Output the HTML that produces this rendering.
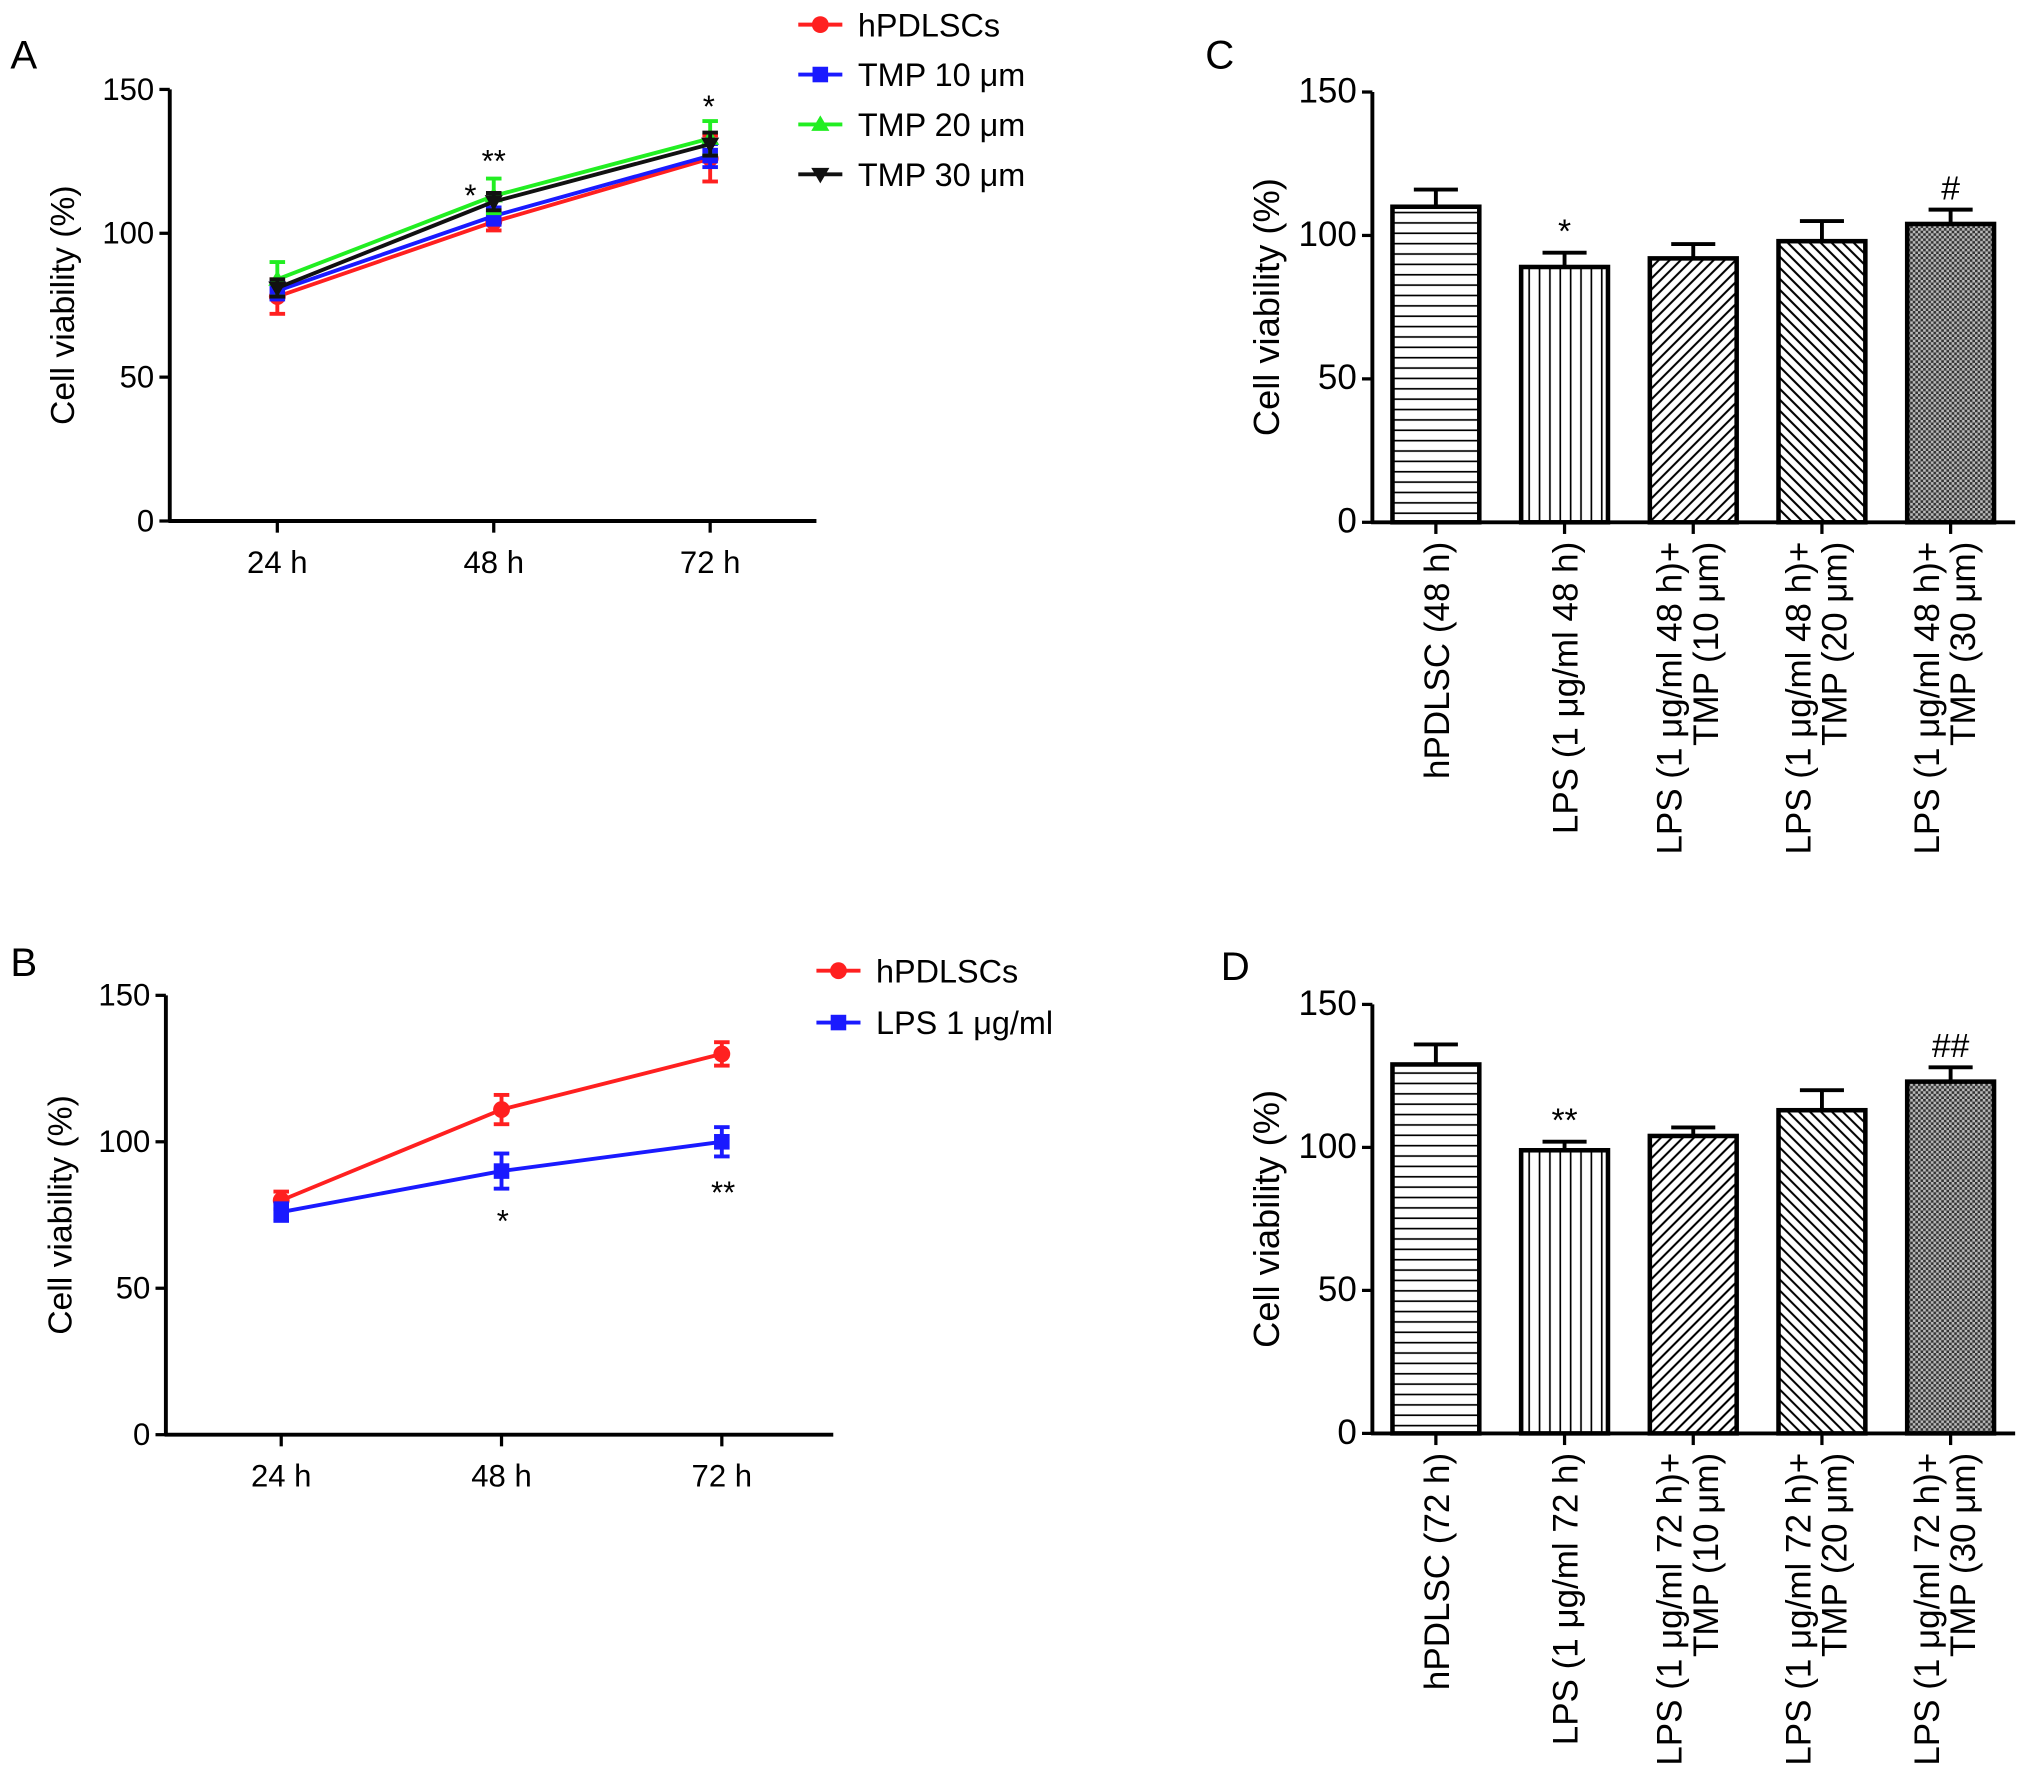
<!DOCTYPE html>
<html><head><meta charset="utf-8"><style>
html,body{margin:0;padding:0;background:#fff;}
svg{display:block;font-family:"Liberation Sans",Arial,sans-serif;}
</style></head><body>
<svg id="fig" width="2032" height="1771" viewBox="0 0 1568 1366.5" preserveAspectRatio="none" xmlns="http://www.w3.org/2000/svg">
<defs>
<pattern id="pH" patternUnits="userSpaceOnUse" width="8" height="8"><rect width="8" height="8" fill="#fff"/><line x1="0" y1="4" x2="8" y2="4" stroke="#000" stroke-width="1.3"/></pattern>
<pattern id="pV" patternUnits="userSpaceOnUse" width="8" height="8"><rect width="8" height="8" fill="#fff"/><line x1="4" y1="0" x2="4" y2="8" stroke="#000" stroke-width="1.3"/></pattern>
<pattern id="pD1" patternUnits="userSpaceOnUse" width="6" height="6" patternTransform="rotate(45)"><rect width="6" height="6" fill="#fff"/><line x1="3" y1="0" x2="3" y2="6" stroke="#000" stroke-width="1.6"/></pattern>
<pattern id="pD2" patternUnits="userSpaceOnUse" width="6" height="6" patternTransform="rotate(-45)"><rect width="6" height="6" fill="#fff"/><line x1="3" y1="0" x2="3" y2="6" stroke="#000" stroke-width="1.6"/></pattern>
<pattern id="pX" patternUnits="userSpaceOnUse" width="4" height="4"><rect width="4" height="4" fill="#bbb"/><rect width="2" height="2" fill="#333"/><rect x="2" y="2" width="2" height="2" fill="#333"/></pattern>
</defs>
</svg>
<script>
// Panel A data
const catsA = ["24 h","48 h","72 h"];
const namesA = ["hPDLSCs","TMP 10 μm","TMP 20 μm","TMP 30 μm"];
const valA_hp = [78,104,126];
const errA_hp = [6,3,8];
const valA_10 = [80,106,127];
const errA_10 = [3,3,4];
const valA_20 = [84,113,133];
const errA_20 = [6,6,6];
const valA_30 = [81,111,131];
const errA_30 = [3,3,4];
// Panel B data
const catsB = ["24 h","48 h","72 h"];
const namesB = ["hPDLSCs","LPS 1 μg/ml"];
const valB_hp = [80,111,130];
const errB_hp = [3,5,4];
const valB_lps = [76,90,100];
const errB_lps = [3,6,5];
const starsB = ["","*","**"];
// Panel C data
const catsC = [["hPDLSC (48 h)"],["LPS (1 μg/ml 48 h)"],["LPS (1 μg/ml 48 h)+","TMP (10 μm)"],["LPS (1 μg/ml 48 h)+","TMP (20 μm)"],["LPS (1 μg/ml 48 h)+","TMP (30 μm)"]];
const valC = [110,89,92,98,104];
const errC = [6,5,5,7,5];
const markC = ["","*","","","#"];
// Panel D data
const catsD = [["hPDLSC (72 h)"],["LPS (1 μg/ml 72 h)"],["LPS (1 μg/ml 72 h)+","TMP (10 μm)"],["LPS (1 μg/ml 72 h)+","TMP (20 μm)"],["LPS (1 μg/ml 72 h)+","TMP (30 μm)"]];
const valD = [129,99,104,113,123];
const errD = [7,3,3,7,5];
const markD = ["","**","","","##"];
const yTicks = [0,50,100,150];

const NS="http://www.w3.org/2000/svg";
const svg=document.getElementById('fig');
function mk(tag,attrs,parent,text){const e=document.createElementNS(NS,tag);for(const k in attrs)e.setAttribute(k,attrs[k]);if(text!==undefined)e.textContent=text;(parent||svg).appendChild(e);return e;}

function axes(g,ax){
  const y=v=>ax.y0-(v/150)*(ax.y0-ax.y150);
  const yl=mk('line',{x1:ax.x0,y1:ax.y150,x2:ax.x0,y2:ax.y0+1,stroke:'#000','stroke-width':3},g);
  
  
  const xl=mk('line',{x1:ax.x0-1,y1:ax.y0,x2:ax.x1,y2:ax.y0,stroke:'#000','stroke-width':3},g);
  
  
  yTicks.forEach(t=>{
    mk('line',{x1:ax.x0-8,y1:y(t),x2:ax.x0,y2:y(t),stroke:'#000','stroke-width':2.5},g);
    const tl=mk('text',{x:ax.x0-12,y:y(t)+8,'text-anchor':'end','font-size':ax.fs},g,String(t));
    
    
  });
  const tt=mk('text',{transform:`translate(${ax.tx},${(ax.y0+ax.y150)/2}) rotate(-90)`,'text-anchor':'middle','font-size':ax.tfs},g,'Cell viability (%)');
  
  
  return y;
}
function marker(g,type,x,y,color){
  if(type==='circle') return mk('circle',{cx:x,cy:y,r:6.5,fill:color},g);
  if(type==='square') return mk('rect',{x:x-6,y:y-6,width:12,height:12,fill:color},g);
  if(type==='up') return mk('polygon',{points:`${x},${y-7} ${x-7},${y+5} ${x+7},${y+5}`,fill:color},g);
  return mk('polygon',{points:`${x},${y+7} ${x-7},${y-5} ${x+7},${y-5}`,fill:color},g);
}
function linePanel(id,ax,cats,series,legend){
  const g=mk('g',{});  
  const y=axes(g,ax);
  const step=(ax.xc[1]-ax.xc[0]);
  const x=i=>ax.xc[0]+i*step;
  cats.forEach((c,i)=>{
    mk('line',{x1:x(i),y1:ax.y0,x2:x(i),y2:ax.y0+9,stroke:'#000','stroke-width':2.5},g);
    const t=mk('text',{x:x(i),y:ax.y0+40,'text-anchor':'middle','font-size':24},g,c);
    
    
  });
  series.forEach(s=>{
    const sg=mk('g',{},g);  
    const pts=s.v.map((v,i)=>`${x(i)},${y(v)}`).join(' ');
    mk('polyline',{points:pts,fill:'none',stroke:s.c,'stroke-width':3},sg);
    s.v.forEach((v,i)=>{
      const e=s.e[i];
      mk('line',{x1:x(i),y1:y(v+e),x2:x(i),y2:y(v-e),stroke:s.c,'stroke-width':3},sg);
      mk('line',{x1:x(i)-6,y1:y(v+e),x2:x(i)+6,y2:y(v+e),stroke:s.c,'stroke-width':3},sg);
      mk('line',{x1:x(i)-6,y1:y(v-e),x2:x(i)+6,y2:y(v-e),stroke:s.c,'stroke-width':3},sg);
      const m=marker(sg,s.m,x(i),y(v),s.c);
      
      
    });
  });
  legend.forEach((l,i)=>{
    const lg=mk('g',{},g);  
    const ly=ax.ly+i*ax.lstep;
    mk('line',{x1:ax.lx,y1:ly,x2:ax.lx+34,y2:ly,stroke:l.c,'stroke-width':3},lg);
    marker(lg,l.m,ax.lx+17,ly,l.c);
    mk('text',{x:ax.lx+46,y:ly+9,'font-size':25},lg,l.n);
  });
  return {g,x,y};
}
function label(t,x,yy){const e=mk('text',{x:x,y:yy,'font-size':31},svg,t);}

// Panel A
const axA={x0:131,x1:630,y0:402,y150:69,xc:[214,381],tx:57,lx:616,ly:19,lstep:38.5,fs:24,tfs:26};
const colors=['#ff2020','#1a1aff','#22ee22','#111'];
const mks=['circle','square','up','down'];
const keysA=['hpdlscs','tmp10','tmp20','tmp30'];
const valsA=[valA_hp,valA_10,valA_20,valA_30], errsA=[errA_hp,errA_10,errA_20,errA_30];
const pA=linePanel('panel-a',axA,catsA,valsA.map((v,i)=>({key:keysA[i],v:v,e:errsA[i],c:colors[i],m:mks[i]})),namesA.map((n,i)=>({n:n,c:colors[i],m:mks[i]})));
[[1,'*',-18,valA_20[1]+errA_20[1]-5],[1,'**',0,valA_20[1]+errA_20[1]+7],[2,'*',-1,valA_20[2]+errA_20[2]+6]].forEach(s=>{
  const t=mk('text',{x:pA.x(s[0])+s[2],y:pA.y(s[3])+10,'text-anchor':'middle','font-size':24},pA.g,s[1]);
  
  
});
label('A',8,53);

// Panel B
const axB={x0:128,x1:643,y0:1107,y150:768,xc:[217,387],tx:55,lx:630,ly:749,lstep:40,fs:24,tfs:26};
const pB=linePanel('panel-b',axB,catsB,[{key:'hpdlscs',v:valB_hp,e:errB_hp,c:colors[0],m:'circle'},{key:'lps',v:valB_lps,e:errB_lps,c:colors[1],m:'square'}],namesB.map((n,i)=>({n:n,c:colors[i],m:mks[i]})));
starsB.forEach((s,i)=>{ if(!s)return;
  const t=mk('text',{x:pB.x(i)+1,y:pB.y(valB_lps[i]-errB_lps[i])+(i===2?36:33),'text-anchor':'middle','font-size':24},pB.g,s);
  
  
});
label('B',8,753);

// Bar panels
const fills=['url(#pH)','url(#pV)','url(#pD1)','url(#pD2)','url(#pX)'];
function barPanel(id,ax,cats,vals,errs,marks){
  const g=mk('g',{});  
  const y=axes(g,ax);
  const x=i=>ax.xc[0]+i*(ax.xc[1]-ax.xc[0]);
  const bw=67;
  vals.forEach((v,i)=>{
    const e=errs[i];
    const eg=mk('g',{},g);  
    mk('line',{x1:x(i),y1:y(v),x2:x(i),y2:y(v+e),stroke:'#000','stroke-width':3},eg);
    mk('line',{x1:x(i)-17,y1:y(v+e),x2:x(i)+17,y2:y(v+e),stroke:'#000','stroke-width':3},eg);
    const r=mk('rect',{x:x(i)-bw/2,y:y(v),width:bw,height:ax.y0-y(v),fill:fills[i],stroke:'#000','stroke-width':3.5},g);
    
    
    mk('line',{x1:x(i),y1:ax.y0,x2:x(i),y2:ax.y0+9,stroke:'#000','stroke-width':2.5},g);
    const lines=cats[i];
    const tg=mk('g',{},g);  
    lines.forEach((ln,j)=>{
      const off=lines.length===1?10:(j===0?-9:19);
      mk('text',{transform:`translate(${x(i)+off},${ax.y0+15}) rotate(-90)`,'text-anchor':'end','font-size':27},tg,ln);
    });
    if(marks[i]){
      const t=mk('text',{x:x(i),y:y(v+e)-8,'text-anchor':'middle','font-size':26},g,marks[i]);
      
      
    }
  });
}
barPanel('panel-c',{x0:1059,x1:1555,y0:403,y150:71,xc:[1108,1207.3],tx:987,fs:27,tfs:28},catsC,valC,errC,markC);
label('C',930,53);
barPanel('panel-d',{x0:1059,x1:1555,y0:1106,y150:775,xc:[1108,1207.3],tx:987,fs:27,tfs:28},catsD,valD,errD,markD);
label('D',942,756);
</script>
</body></html>
